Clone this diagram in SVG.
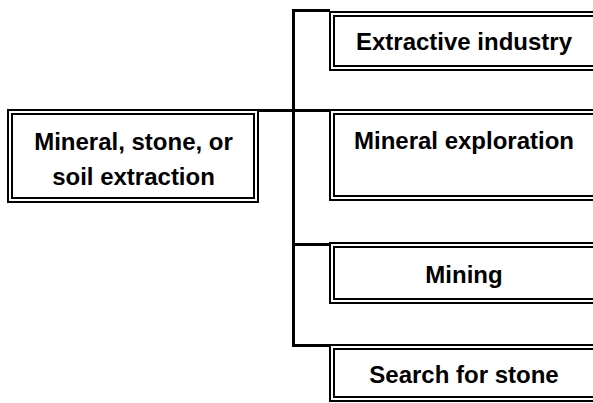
<svg xmlns="http://www.w3.org/2000/svg" width="593" height="403" viewBox="0 0 593 403">
  <style>
    .frame { fill: #ffffff; stroke: #000000; stroke-width: 2; }
    .inner { fill: none; stroke: #000000; stroke-width: 2; }
    .label { font-family: "Liberation Sans", Arial, sans-serif; font-weight: bold; font-size: 24px; fill: #000000; text-anchor: middle; }
    .link { fill: none; stroke: #000000; stroke-width: 3; }
  </style>
  <rect width="593" height="403" fill="#ffffff"/>

  <!-- tree connectors -->
  <g id="connectors">
    <path class="link" d="M293.5 9 V347"/>
    <path class="link" d="M292 10.5 H330"/>
    <path class="link" d="M258 110.5 H330"/>
    <path class="link" d="M292 244.5 H330"/>
    <path class="link" d="M292 345.5 H330"/>
  </g>

  <!-- root node -->
  <g id="root">
    <rect class="frame" x="8" y="110" width="250" height="92"/>
    <rect class="inner" x="12" y="114" width="242" height="84"/>
    <text class="label" x="133.5" y="150">Mineral, stone, or</text>
    <text class="label" x="133.5" y="185">soil extraction</text>
  </g>

  <!-- child nodes -->
  <g id="extractive-industry">
    <rect class="frame" x="330" y="12" width="280" height="58"/>
    <rect class="inner" x="334" y="16" width="280" height="50"/>
    <text class="label" x="464" y="50">Extractive industry</text>
  </g>

  <g id="mineral-exploration">
    <rect class="frame" x="330" y="110" width="280" height="90"/>
    <rect class="inner" x="334" y="114" width="280" height="82"/>
    <text class="label" x="464" y="149">Mineral exploration</text>
  </g>

  <g id="mining">
    <rect class="frame" x="330" y="243" width="280" height="60"/>
    <rect class="inner" x="334" y="247" width="280" height="52"/>
    <text class="label" x="464" y="283">Mining</text>
  </g>

  <g id="search-for-stone">
    <rect class="frame" x="330" y="345" width="280" height="56"/>
    <rect class="inner" x="334" y="349" width="280" height="48"/>
    <text class="label" x="464" y="383">Search for stone</text>
  </g>
</svg>
